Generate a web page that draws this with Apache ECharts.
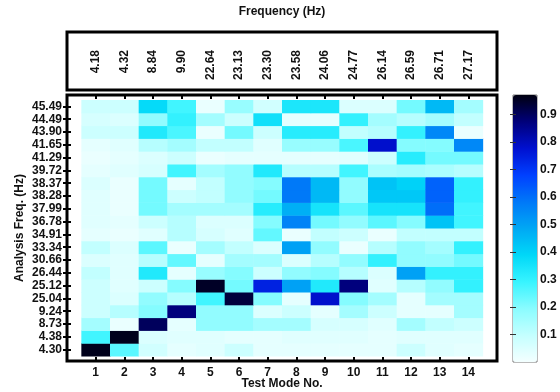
<!DOCTYPE html>
<html>
<head>
<meta charset="utf-8">
<script src="https://cdn.jsdelivr.net/npm/echarts@6/dist/echarts.min.js"></script>
<style>
  html, body { margin: 0; padding: 0; background: #fff; }
  #chart { width: 560px; height: 392px; }
</style>
</head>
<body>
<div id="chart"></div>
<script>
// Test modes along the bottom, their natural frequencies along the top
const testModes = [1, 2, 3, 4, 5, 6, 7, 8, 9, 10, 11, 12, 13, 14];
const modeFreqs = ['4.18', '4.32', '8.84', '9.90', '22.64', '23.13', '23.30',
  '23.58', '24.06', '24.77', '26.14', '26.59', '26.71', '27.17'];

// Analysis frequencies, bottom row first
const analysisFreqs = ['4.30', '4.38', '8.73', '9.24', '25.04', '25.12', '26.44',
  '30.66', '33.34', '34.91', '36.78', '37.99', '38.28', '38.37', '39.72',
  '41.29', '41.65', '43.90', '44.49', '45.49'];

// One row per analysis frequency (same order), one value per test mode
const macValues = [
  [0.96, 0.25, 0.07, 0.03, 0.04, 0.08, 0.03, 0.03, 0.03, 0.03, 0.03, 0.08, 0.04, 0.03],
  [0.28, 0.96, 0.05, 0.04, 0.04, 0.03, 0.03, 0.04, 0.04, 0.04, 0.03, 0.04, 0.04, 0.04],
  [0.15, 0.02, 0.90, 0.03, 0.18, 0.18, 0.15, 0.15, 0.06, 0.06, 0.04, 0.15, 0.10, 0.08],
  [0.08, 0.12, 0.20, 0.87, 0.18, 0.18, 0.05, 0.08, 0.03, 0.15, 0.08, 0.03, 0.03, 0.15],
  [0.08, 0.05, 0.18, 0.12, 0.28, 0.93, 0.20, 0.03, 0.78, 0.20, 0.15, 0.03, 0.15, 0.15],
  [0.08, 0.04, 0.08, 0.20, 0.95, 0.22, 0.74, 0.50, 0.33, 0.87, 0.04, 0.12, 0.18, 0.30],
  [0.10, 0.04, 0.33, 0.03, 0.17, 0.20, 0.08, 0.18, 0.20, 0.12, 0.05, 0.50, 0.30, 0.30],
  [0.05, 0.04, 0.12, 0.24, 0.03, 0.15, 0.15, 0.05, 0.12, 0.18, 0.30, 0.18, 0.18, 0.22],
  [0.10, 0.05, 0.25, 0.02, 0.15, 0.10, 0.05, 0.50, 0.18, 0.02, 0.12, 0.18, 0.15, 0.30],
  [0.03, 0.02, 0.04, 0.12, 0.06, 0.04, 0.24, 0.02, 0.10, 0.08, 0.02, 0.10, 0.10, 0.10],
  [0.04, 0.03, 0.08, 0.12, 0.05, 0.05, 0.20, 0.56, 0.22, 0.18, 0.25, 0.20, 0.43, 0.28],
  [0.04, 0.02, 0.22, 0.15, 0.15, 0.15, 0.32, 0.47, 0.35, 0.25, 0.35, 0.35, 0.60, 0.28],
  [0.04, 0.02, 0.22, 0.08, 0.10, 0.18, 0.22, 0.58, 0.45, 0.18, 0.42, 0.42, 0.62, 0.30],
  [0.05, 0.02, 0.22, 0.03, 0.10, 0.18, 0.20, 0.58, 0.45, 0.18, 0.43, 0.40, 0.62, 0.30],
  [0.03, 0.04, 0.06, 0.28, 0.15, 0.18, 0.33, 0.12, 0.12, 0.28, 0.14, 0.15, 0.14, 0.12],
  [0.02, 0.03, 0.05, 0.08, 0.02, 0.03, 0.03, 0.03, 0.03, 0.04, 0.08, 0.32, 0.22, 0.22],
  [0.03, 0.04, 0.12, 0.15, 0.10, 0.10, 0.04, 0.17, 0.17, 0.27, 0.78, 0.20, 0.20, 0.55],
  [0.08, 0.08, 0.33, 0.27, 0.02, 0.22, 0.08, 0.32, 0.32, 0.10, 0.12, 0.30, 0.55, 0.02],
  [0.06, 0.05, 0.18, 0.30, 0.15, 0.08, 0.36, 0.03, 0.03, 0.30, 0.15, 0.12, 0.15, 0.10],
  [0.08, 0.08, 0.38, 0.28, 0.02, 0.17, 0.07, 0.34, 0.34, 0.05, 0.05, 0.22, 0.45, 0.15]
];

// colour bar range and ticks
const scaleMin = 0;
const scaleMax = 0.97;
const colorbarTicks = [0.1, 0.2, 0.3, 0.4, 0.5, 0.6, 0.7, 0.8, 0.9];

// white -> cyan -> blue -> black
const palette = ['#f4ffff', '#c4ffff', '#8afcff', '#38f4ff', '#00d8f8', '#00a8f4',
  '#0078f8', '#0040ff', '#0010d0', '#00007a', '#000010'];

const FONT = 'Arial, "Liberation Sans", sans-serif';
const labelStyle = { color: '#111', fontFamily: FONT, fontWeight: 'bold', fontSize: 12 };

const rowIdx = analysisFreqs.map((_, i) => i + 1);

const cells = [];
macValues.forEach((row, r) => {
  row.forEach((v, c) => cells.push([testModes[c], r + 1, v]));
});

const tickStyle = (show) => ({
  show: show,
  inside: true,
  length: 4,
  lineStyle: { color: '#000', width: 2 }
});

const option = {
  animation: false,
  backgroundColor: '#fff',
  grid: [
    // main heat map frame
    { left: 67, right: 63, top: 95, bottom: 31, show: true, borderColor: '#000', borderWidth: 3,
      backgroundColor: '#fff', outerBoundsMode: 'none', containLabel: false },
    // frequency box on top
    { left: 67, right: 63, top: 32, height: 58, show: true, borderColor: '#000', borderWidth: 3,
      outerBoundsMode: 'none', containLabel: false },
    // colour bar
    { left: 513, top: 95, width: 24, height: 267, show: true, borderColor: '#777', borderWidth: 1,
      outerBoundsMode: 'none', containLabel: false }
  ],
  xAxis: [
    {
      gridIndex: 0, type: 'value', min: 0, max: 15, position: 'bottom',
      name: 'Test Mode No.', nameLocation: 'middle', nameGap: 17, nameMoveOverlap: false,
      nameTextStyle: labelStyle,
      axisLine: { show: false },
      axisTick: Object.assign(tickStyle(true), { customValues: testModes }),
      axisLabel: Object.assign({ customValues: testModes, margin: 6 }, labelStyle),
      splitLine: { show: false }
    },
    {
      gridIndex: 0, type: 'value', min: 0, max: 15, position: 'top',
      axisLine: { show: false },
      axisTick: Object.assign(tickStyle(true), { customValues: testModes }),
      axisLabel: { show: false },
      splitLine: { show: false }
    },
    {
      gridIndex: 1, type: 'value', min: 0, max: 15, position: 'top',
      name: 'Frequency (Hz)', nameLocation: 'middle', nameGap: 14, nameMoveOverlap: false,
      nameTextStyle: labelStyle,
      axisLine: { show: false },
      axisTick: { show: false },
      axisLabel: Object.assign({
        customValues: testModes,
        inside: true,
        rotate: 90,
        margin: 18,
        formatter: (v) => modeFreqs[v - 1]
      }, labelStyle),
      splitLine: { show: false }
    },
    { gridIndex: 2, type: 'value', min: 0, max: 1, show: false }
  ],
  yAxis: [
    {
      gridIndex: 0, type: 'value', min: 0.11, max: 20.89, position: 'left',
      name: 'Analysis Freq. (Hz)', nameLocation: 'middle', nameGap: 41, nameMoveOverlap: false,
      nameTextStyle: labelStyle,
      axisLine: { show: false },
      axisTick: Object.assign(tickStyle(true), { customValues: rowIdx }),
      axisLabel: Object.assign({
        customValues: rowIdx,
        margin: 5,
        formatter: (v) => analysisFreqs[v - 1]
      }, labelStyle),
      splitLine: { show: false }
    },
    {
      gridIndex: 0, type: 'value', min: 0.11, max: 20.89, position: 'right',
      axisLine: { show: false },
      axisTick: Object.assign(tickStyle(true), { customValues: rowIdx }),
      axisLabel: { show: false },
      splitLine: { show: false }
    },
    { gridIndex: 1, type: 'value', show: false },
    {
      gridIndex: 2, type: 'value', min: scaleMin, max: scaleMax, position: 'right', z: 10,
      axisLine: { show: false },
      axisTick: { show: true, inside: true, length: 3, customValues: colorbarTicks, lineStyle: { color: '#333' } },
      axisLabel: Object.assign({ customValues: colorbarTicks, margin: 3, formatter: (v) => v.toFixed(1) }, labelStyle),
      splitLine: { show: false }
    },
    {
      gridIndex: 2, type: 'value', min: scaleMin, max: scaleMax, position: 'left', z: 10,
      axisLine: { show: false },
      axisTick: { show: true, inside: true, length: 3, customValues: colorbarTicks, lineStyle: { color: '#333' } },
      axisLabel: { show: false },
      splitLine: { show: false }
    }
  ],
  visualMap: {
    type: 'continuous',
    seriesIndex: 0,
    dimension: 2,
    min: scaleMin,
    max: scaleMax,
    calculable: false,
    orient: 'vertical',
    left: 513,
    top: 95,
    itemWidth: 24,
    itemHeight: 267,
    padding: 0,
    text: null,
    showLabel: false,
    hoverLink: false,
    inRange: { color: palette }
  },
  series: [
    {
      type: 'custom',
      xAxisIndex: 0,
      yAxisIndex: 0,
      data: cells,
      encode: { x: 0, y: 1 },
      renderItem: function (params, api) {
        const p = api.coord([api.value(0) - 0.5, api.value(1) + 0.5]);
        const s = api.size([1, 1]);
        return {
          type: 'rect',
          shape: { x: p[0], y: p[1], width: s[0] + 0.5, height: s[1] + 0.5 },
          style: { fill: api.visual('color') }
        };
      }
    }
  ]
};

const chart = echarts.init(document.getElementById('chart'));
chart.setOption(option);
</script>
</body>
</html>
